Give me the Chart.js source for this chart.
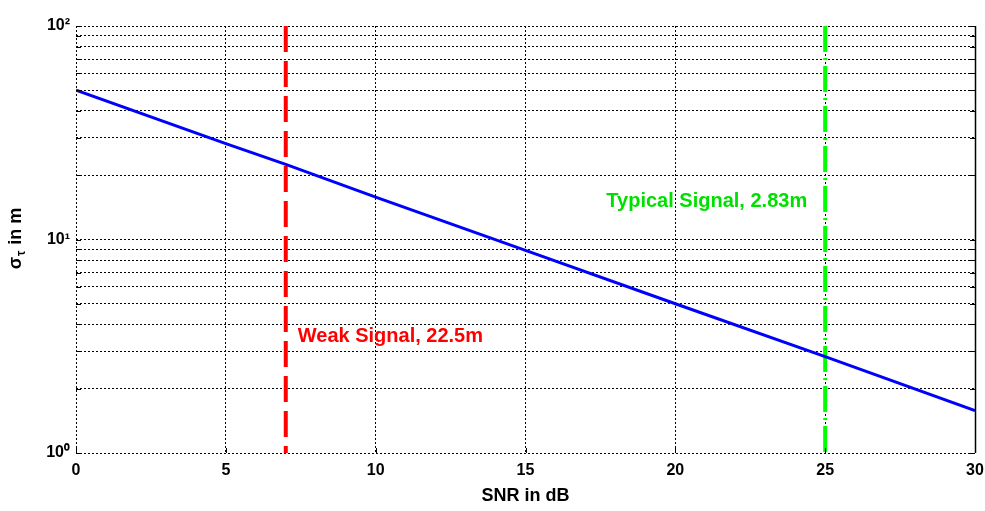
<!DOCTYPE html>
<html>
<head>
<meta charset="utf-8">
<script src="https://cdn.jsdelivr.net/npm/chart.js@4"></script>
<style>
  html,body{margin:0;padding:0;background:#fff;}
  #wrap{width:985px;height:511px;}
</style>
</head>
<body>
<div id="wrap"><canvas id="c" width="985" height="511"></canvas></div>
<script>
// ---- data ----
const snrDb   = [0, 5, 7, 10, 15, 20, 25, 30];
const sigmaM  = [50, 28.1, 22.5, 15.8, 8.9, 5.0, 2.83, 1.58];
const weakSnr = 7;
const typicalSnr = 25;
const markerSpan = [100, 1];
const weakLabel = 'Weak Signal, 22.5m';
const typicalLabel = 'Typical Signal, 2.83m';
const weakLabelPos = [7.4, 3.5];
const typicalLabelPos = [24.4, 15.0];
const xTicks = [0, 5, 10, 15, 20, 25, 30];
const yDecades = [1, 10, 100];
const yTickLabels = ['10\u2070', '10\u00B9', '10\u00B2'];
const xTitle = 'SNR in dB';
const yTitleMain = '\u03C3';
const yTitleSub = '\u03C4';
const yTitleRest = ' in m';

const FONT = '"Liberation Sans", Arial, sans-serif';

const yGridTicks = [];
for (let d = 0; d < 2; d++) for (let k = 1; k < 10; k++) yGridTicks.push(k * Math.pow(10, d));
yGridTicks.push(100);

const overlay = {
  id: 'overlay',
  afterDraw(chart) {
    const {ctx, chartArea: a, scales: {x, y}} = chart;
    ctx.save();
    // solid right frame line
    ctx.strokeStyle = '#000'; ctx.lineWidth = 1.5; ctx.setLineDash([]);
    ctx.beginPath(); ctx.moveTo(a.right + 0.5, a.top); ctx.lineTo(a.right + 0.5, a.bottom); ctx.stroke();
    // small inward ticks on left & right axes
    ctx.lineWidth = 1;
    yGridTicks.forEach(v => {
      const py = Math.round(y.getPixelForValue(v)) + 0.5;
      ctx.beginPath(); ctx.moveTo(a.left, py); ctx.lineTo(a.left + 5, py); ctx.stroke();
      ctx.beginPath(); ctx.moveTo(a.right, py); ctx.lineTo(a.right - 5, py); ctx.stroke();
    });
    xTicks.forEach(v => {
      const px = Math.round(x.getPixelForValue(v)) + 0.5;
      ctx.beginPath(); ctx.moveTo(px, a.bottom); ctx.lineTo(px, a.bottom - 5); ctx.stroke();
    });
    // annotations
    ctx.font = 'bold 20px ' + FONT;
    ctx.textBaseline = 'middle';
    ctx.fillStyle = '#ff0000'; ctx.textAlign = 'left';
    ctx.fillText(weakLabel, x.getPixelForValue(weakLabelPos[0]), y.getPixelForValue(weakLabelPos[1]));
    ctx.fillStyle = '#00e000'; ctx.textAlign = 'right';
    ctx.fillText(typicalLabel, x.getPixelForValue(typicalLabelPos[0]), y.getPixelForValue(typicalLabelPos[1]));
    // x title
    ctx.fillStyle = '#000'; ctx.textAlign = 'center'; ctx.textBaseline = 'middle';
    ctx.font = 'bold 18px ' + FONT;
    ctx.fillText(xTitle, (a.left + a.right) / 2, 496);
    // y title (rotated, with subscript)
    ctx.translate(16, (a.top + a.bottom) / 2);
    ctx.rotate(-Math.PI / 2);
    ctx.textAlign = 'left';
    ctx.font = 'bold 18px ' + FONT;
    const w1 = ctx.measureText(yTitleMain).width;
    ctx.font = 'bold 12px ' + FONT;
    const w2 = ctx.measureText(yTitleSub).width;
    ctx.font = 'bold 18px ' + FONT;
    const w3 = ctx.measureText(yTitleRest).width;
    let sx = -(w1 + w2 + w3) / 2;
    ctx.fillText(yTitleMain, sx, 0);
    ctx.font = 'bold 12px ' + FONT;
    ctx.fillText(yTitleSub, sx + w1 + 1, 6);
    ctx.font = 'bold 18px ' + FONT;
    ctx.fillText(yTitleRest, sx + w1 + w2 + 2, 0);
    ctx.restore();
  }
};

new Chart(document.getElementById('c'), {
  type: 'line',
  data: {
    datasets: [
      {
        data: snrDb.map((v, i) => ({x: v, y: sigmaM[i]})),
        borderColor: '#0000ff', borderWidth: 3, pointRadius: 0, tension: 0
      },
      {
        data: markerSpan.map(v => ({x: weakSnr, y: v})),
        borderColor: '#ff0000', borderWidth: 4, borderDash: [26, 9], pointRadius: 0
      },
      {
        data: markerSpan.map(v => ({x: typicalSnr, y: v})),
        borderColor: '#00ff00', borderWidth: 4, borderDash: [26, 6, 2, 6], pointRadius: 0
      }
    ]
  },
  options: {
    responsive: false,
    animation: false,
    devicePixelRatio: 1,
    layout: {padding: {left: 0, top: 26, right: 0, bottom: 0}},
    plugins: {legend: {display: false}, tooltip: {enabled: false}},
    scales: {
      x: {
        type: 'linear', min: 0, max: 30,
        afterBuildTicks: s => { s.ticks = xTicks.map(v => ({value: v})); },
        afterFit: s => { s.height = 58; s.paddingRight = 10; s.paddingLeft = 0; },
        ticks: {color: '#000', font: {family: FONT, size: 16, weight: 'bold'}, padding: 8, maxRotation: 0},
        grid: {color: '#000', lineWidth: 1, drawTicks: false},
        border: {display: false, dash: [2, 2]}
      },
      y: {
        type: 'logarithmic', min: 1, max: 100,
        afterBuildTicks: s => { s.ticks = yGridTicks.map(v => ({value: v})); },
        afterFit: s => { s.width = 76; s.paddingTop = 0; s.paddingBottom = 0; },
        ticks: {
          color: '#000', font: {family: FONT, size: 16, weight: 'bold'}, padding: 6,
          autoSkip: false,
          callback: v => { const i = yDecades.indexOf(v); return i >= 0 ? yTickLabels[i] : ''; }
        },
        grid: {color: '#000', lineWidth: 1, drawTicks: false},
        border: {display: false, dash: [2, 2]}
      }
    }
  },
  plugins: [overlay]
});
</script>
</body>
</html>
